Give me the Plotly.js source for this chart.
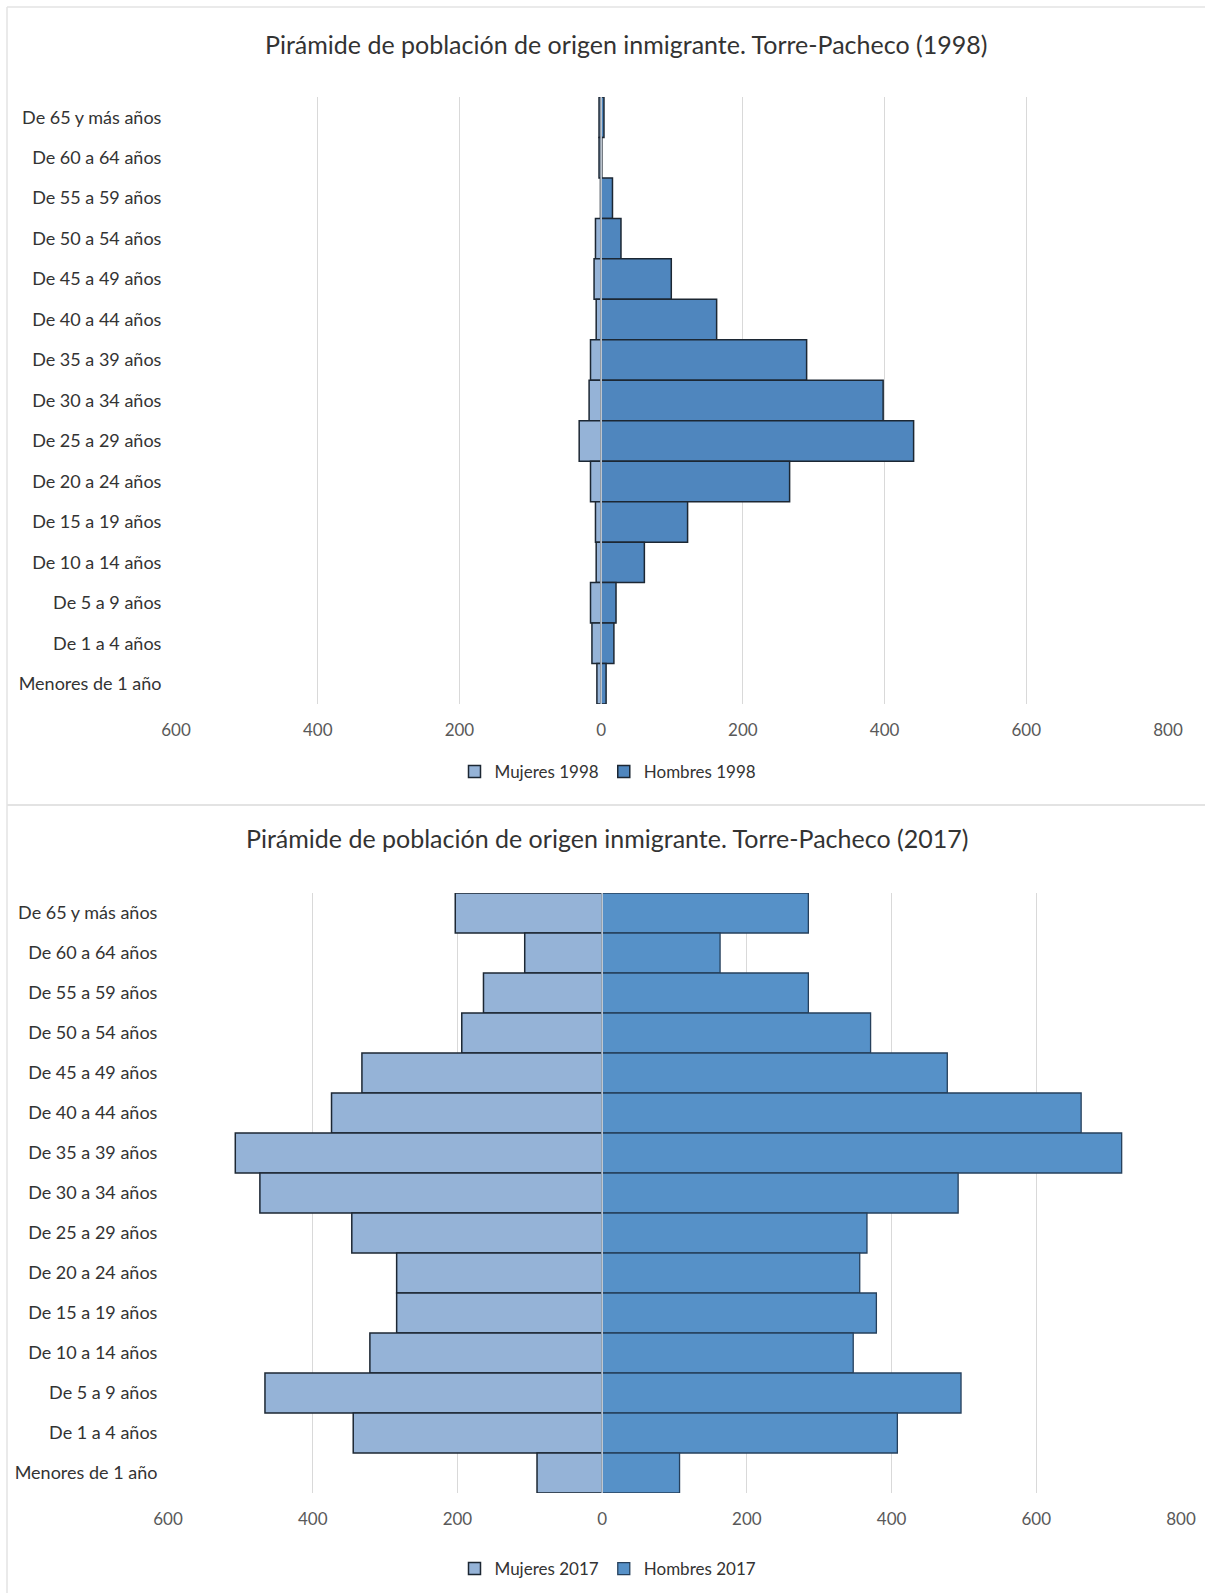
<!DOCTYPE html>
<html>
<head>
<meta charset="utf-8">
<script src="https://cdn.plot.ly/plotly-3.0.1.min.js"></script>
<style>
  html, body { margin: 0; padding: 0; background: #ffffff; }
  #chart { width: 1205px; height: 1593px; }
</style>
</head>
<body>
<div id="chart"></div>
<script>
// ---- Data ----
const categories = [
  "De 65 y más años", "De 60 a 64 años", "De 55 a 59 años", "De 50 a 54 años",
  "De 45 a 49 años", "De 40 a 44 años", "De 35 a 39 años", "De 30 a 34 años",
  "De 25 a 29 años", "De 20 a 24 años", "De 15 a 19 años", "De 10 a 14 años",
  "De 5 a 9 años", "De 1 a 4 años", "Menores de 1 año"
];
const mujeres1998 = [3, 3, 1, 8, 10, 7, 15, 17, 31, 15, 8, 7, 15, 13, 6];
const hombres1998 = [4, 1, 16, 28, 99, 163, 290, 398, 441, 266, 122, 61, 21, 18, 7];
const mujeres2017 = [203, 107, 164, 194, 332, 374, 507, 473, 346, 284, 284, 321, 466, 344, 90];
const hombres2017 = [285, 163, 285, 371, 477, 662, 718, 492, 366, 356, 379, 347, 496, 408, 107];

const tickValues = [-600, -400, -200, 0, 200, 400, 600, 800];
const tickLabels = ["600", "400", "200", "0", "200", "400", "600", "800"];

const title1998 = "Pirámide de población de origen inmigrante. Torre-Pacheco (1998)";
const title2017 = "Pirámide de población de origen inmigrante. Torre-Pacheco (2017)";

// ---- Styles ----
const W = 1205, H = 1593;
const FONT = "Lato, 'Open Sans', sans-serif";
const TXT = "#333333";
const GRID = "#d9d9d9";
const MUJ = "#95b3d7";
const HOM1 = "#4f86be";
const HOM2 = "#5691c8";
const EDGE = "#1c2733";

const px = v => v / W;
const py = v => 1 - v / H;

const neg = arr => arr.map(v => -v);

const traces = [
  { type: "bar", orientation: "h", name: "Mujeres 1998", y: categories, x: neg(mujeres1998),
    xaxis: "x", yaxis: "y", legend: "legend",
    marker: { color: MUJ, line: { color: EDGE, width: 1.5 } }, hoverinfo: "skip" },
  { type: "bar", orientation: "h", name: "Hombres 1998", y: categories, x: hombres1998,
    xaxis: "x", yaxis: "y", legend: "legend",
    marker: { color: HOM1, line: { color: EDGE, width: 1.5 } }, hoverinfo: "skip" },
  { type: "bar", orientation: "h", name: "Mujeres 2017", y: categories, x: neg(mujeres2017),
    xaxis: "x2", yaxis: "y2", legend: "legend2",
    marker: { color: MUJ, line: { color: EDGE, width: 1.5 } }, hoverinfo: "skip" },
  { type: "bar", orientation: "h", name: "Hombres 2017", y: categories, x: hombres2017,
    xaxis: "x2", yaxis: "y2", legend: "legend2",
    marker: { color: HOM2, line: { color: "#26405c", width: 1.3 } }, hoverinfo: "skip" }
];

const xCommon = {
  range: [-600, 800], tickmode: "array", tickvals: tickValues, ticktext: tickLabels,
  showgrid: true, gridcolor: GRID, gridwidth: 1, zeroline: false, showline: false,
  ticks: "outside", ticklen: 11, tickcolor: "rgba(0,0,0,0)",
  tickfont: { family: FONT, size: 17, color: "#595959" }, fixedrange: true
};
const yCommon = {
  type: "category", autorange: false, range: [14.5, -0.5],
  showgrid: false, zeroline: false, showline: false,
  ticks: "outside", ticklen: 10, tickcolor: "rgba(0,0,0,0)",
  tickfont: { family: FONT, size: 18, color: TXT }, fixedrange: true
};

const layout = {
  width: W, height: H,
  margin: { l: 0, r: 0, t: 0, b: 0 },
  paper_bgcolor: "#ffffff", plot_bgcolor: "rgba(0,0,0,0)",
  barmode: "relative", bargap: 0,
  showlegend: true,
  font: { family: FONT, color: TXT },
  xaxis: Object.assign({}, xCommon, { domain: [px(176), px(1168)], anchor: "y" }),
  yaxis: Object.assign({}, yCommon, { domain: [py(704), py(97)], anchor: "x" }),
  xaxis2: Object.assign({}, xCommon, { domain: [px(168), px(1181)], anchor: "y2" }),
  yaxis2: Object.assign({}, yCommon, { domain: [py(1493), py(893)], anchor: "x2", ticklen: 6 }),
  legend: {
    orientation: "h", x: px(608), xanchor: "center", y: py(772), yanchor: "middle",
    font: { family: FONT, size: 17, color: TXT }, itemwidth: 30, traceorder: "normal",
    bgcolor: "rgba(0,0,0,0)"
  },
  legend2: {
    orientation: "h", x: px(608), xanchor: "center", y: py(1569), yanchor: "middle",
    font: { family: FONT, size: 17, color: TXT }, itemwidth: 30, traceorder: "normal",
    bgcolor: "rgba(0,0,0,0)"
  },
  annotations: [
    { text: title1998, xref: "paper", yref: "paper", x: px(626), y: py(44),
      xanchor: "center", yanchor: "middle", showarrow: false,
      font: { family: FONT, size: 25, color: TXT } },
    { text: title2017, xref: "paper", yref: "paper", x: px(607), y: py(838),
      xanchor: "center", yanchor: "middle", showarrow: false,
      font: { family: FONT, size: 25, color: TXT } }
  ],
  shapes: [
    // vertical axis lines at zero (drawn above bars)
    { type: "line", xref: "x", yref: "paper", x0: 0, x1: 0, y0: py(704), y1: py(97),
      layer: "above", line: { color: "#d0d8e2", width: 1.5 } },
    { type: "line", xref: "x2", yref: "paper", x0: 0, x1: 0, y0: py(1493), y1: py(893),
      layer: "above", line: { color: "#d0d8e2", width: 1.5 } },
    // chart frame borders
    { type: "line", xref: "paper", yref: "paper", x0: px(7), x1: 1, y0: py(7), y1: py(7),
      line: { color: "#e3e3e3", width: 1.5 } },
    { type: "line", xref: "paper", yref: "paper", x0: px(7), x1: px(7), y0: py(7), y1: 0,
      line: { color: "#e3e3e3", width: 1.5 } },
    { type: "line", xref: "paper", yref: "paper", x0: px(7), x1: 1, y0: py(805), y1: py(805),
      line: { color: "#e3e3e3", width: 2 } }
  ]
};

Plotly.newPlot("chart", traces, layout, { displayModeBar: false, staticPlot: true });
</script>
</body>
</html>
